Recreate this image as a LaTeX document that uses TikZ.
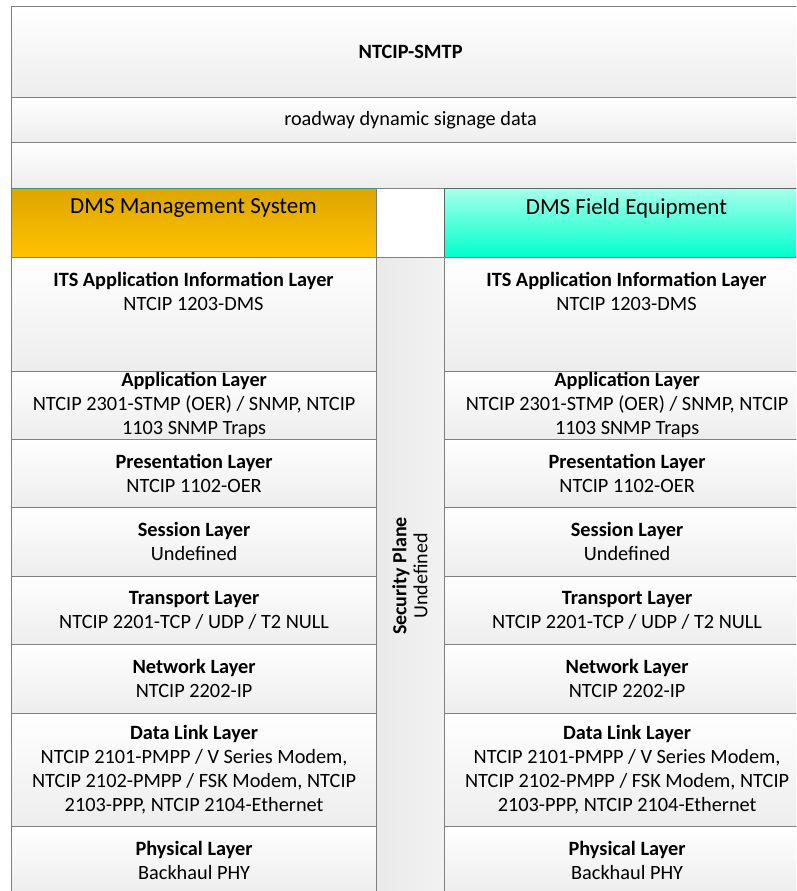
\documentclass[tikz,border=0pt]{standalone}
\usepackage{fontspec}
\setmainfont{Carlito}
\definecolor{edge}{HTML}{808080}
\definecolor{bandlow}{HTML}{EDEDED}
\definecolor{ambertop}{HTML}{DDA600}
\definecolor{amberlow}{HTML}{FFC200}
\definecolor{ambercut}{HTML}{3F9470}
\definecolor{aquatop}{HTML}{A8FFEC}
\definecolor{aqualow}{HTML}{00FFCC}
\definecolor{aquacut}{HTML}{4A6E66}
\newcommand\bodyfont{\fontsize{20.3}{24}\selectfont}
\newcommand\headfont{\fontsize{23}{27}\selectfont}
% one protocol layer, drawn for both end points of the link
\newcommand\layerpair[5]{%
  \node[layer, minimum height=#3] (#1L) at (11,#2) {\textbf{#4}\\#5};
  \node[layer, minimum height=#3] (#1R) at (444,#2) {\textbf{#4}\\#5};}
\begin{document}
\begin{tikzpicture}[x=1pt,y=-1pt,
  band/.style={draw=edge, line width=1.2pt, top color=white, bottom color=bandlow,
    anchor=north west, inner sep=0pt, minimum width=798pt, font=\bodyfont},
  layer/.style={draw=edge, line width=1.2pt, top color=white, bottom color=bandlow,
    anchor=north west, inner sep=0pt, minimum width=365pt, align=center, font=\bodyfont},
  headbox/.style={line width=1pt, anchor=north west, inner sep=0pt,
    minimum width=365pt, minimum height=68.5pt},
  headtext/.style={font=\headfont, inner sep=0pt},
  plaintext/.style={font=\bodyfont, align=center, inner sep=0pt}]
\useasboundingbox (0,0) rectangle (796,891);
\fill[white] (0,0) rectangle (796,891);
\clip (0,0) rectangle (796,891);

% message banner
\node[band, minimum height=91pt] (title) at (11,6) {\textbf{NTCIP-SMTP}};
\node[band, minimum height=45pt] (data) at (11,97) {roadway dynamic signage data};
\node[band, minimum height=46pt] (spare) at (11,142) {};

% end point headers
\node[headbox, draw=ambercut, top color=ambertop, bottom color=amberlow] (mgmt) at (11,188) {};
\node[draw=edge, line width=1.2pt, fill=white, anchor=north west, inner sep=0pt,
  minimum width=68pt, minimum height=68.5pt] (gap) at (376,188) {};
\node[headbox, draw=aquacut, top color=aquatop, bottom color=aqualow] (field) at (444,188) {};
\node[headtext] (mgmtT) at (193.5,208) {DMS Management System};
\node[headtext] (fieldT) at (626.5,208) {DMS Field Equipment};

% security plane spanning every layer
\node[draw=edge, line width=1.2pt, left color=gray!17, middle color=white, right color=gray!10,
  anchor=north west, inner sep=0pt, minimum width=68pt, minimum height=640pt] (sec) at (376,256.5) {};
\node[plaintext, rotate=90, font=\fontsize{20}{21}\selectfont] (secT) at (410,576)
  {\textbf{Security Plane}\\Undefined};

% protocol stacks
\node[layer, minimum height=114pt] (itsL) at (11,256.5) {};
\node[layer, minimum height=114pt] (itsR) at (444,256.5) {};
\node[plaintext] (itsLT) at (193.5,291) {\textbf{ITS Application Information Layer}\\NTCIP 1203-DMS};
\node[plaintext] (itsRT) at (626.5,291) {\textbf{ITS Application Information Layer}\\NTCIP 1203-DMS};
\layerpair{app}{370.5}{68pt}{Application Layer}{NTCIP 2301-STMP (OER) / SNMP, NTCIP\\1103 SNMP Traps}
\layerpair{pres}{438.5}{68.5pt}{Presentation Layer}{NTCIP 1102-OER}
\layerpair{sess}{507}{68.5pt}{Session Layer}{Undefined}
\layerpair{trans}{575.5}{68.5pt}{Transport Layer}{NTCIP 2201-TCP / UDP / T2 NULL}
\layerpair{net}{644}{68.5pt}{Network Layer}{NTCIP 2202-IP}
\layerpair{dl}{712.5}{113.5pt}{Data Link Layer}{NTCIP 2101-PMPP / V Series Modem,\\NTCIP 2102-PMPP / FSK Modem, NTCIP\\2103-PPP, NTCIP 2104-Ethernet}
\layerpair{phy}{826}{67pt}{Physical Layer}{Backhaul PHY}
\end{tikzpicture}
\end{document}
